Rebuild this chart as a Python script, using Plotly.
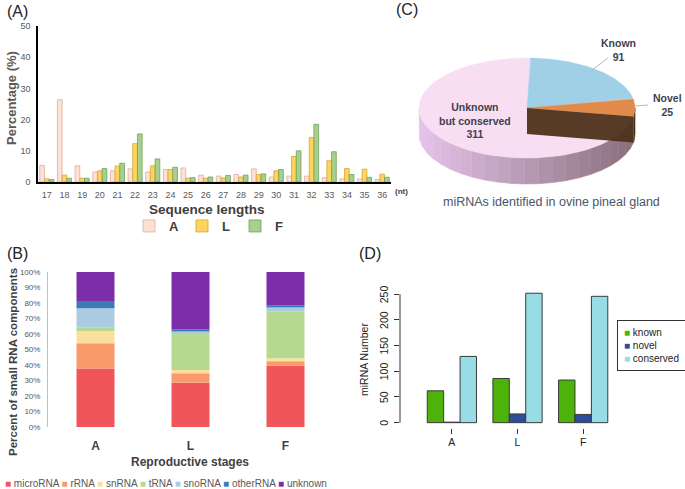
import numpy as np
import plotly.graph_objects as go

# ---------------- data ----------------
# (A) sequence length distribution (%)
LENGTHS = ["17", "18", "19", "20", "21", "22", "23", "24", "25", "26",
           "27", "28", "29", "30", "31", "32", "33", "34", "35", "36"]
PCT_A = [5.3, 26.4, 5.2, 3.2, 3.6, 4.2, 3.2, 4.0, 4.5, 2.2, 1.9, 2.4, 4.2, 1.6, 1.9, 1.9, 1.4, 1.0, 1.0, 0.8]
PCT_L = [1.0, 2.2, 1.2, 3.6, 5.1, 12.3, 5.2, 4.0, 1.2, 1.2, 1.3, 1.6, 2.4, 3.6, 8.2, 14.3, 6.8, 4.3, 4.1, 2.5]
PCT_F = [0.8, 1.2, 1.2, 4.3, 6.0, 15.4, 7.4, 4.7, 1.4, 1.6, 2.1, 2.2, 2.6, 4.0, 10.0, 18.5, 9.7, 2.4, 1.5, 1.5]

# (B) small RNA composition (%)
STAGES = ["A", "L", "F"]
RNA_TYPES = ["microRNA", "rRNA", "snRNA", "tRNA", "snoRNA", "otherRNA", "unknown"]
RNA_A = [37.8, 16.2, 8.0, 2.0, 12.6, 4.7, 18.7]
RNA_L = [28.5, 6.1, 2.1, 23.3, 1.6, 1.5, 36.9]
RNA_F = [39.5, 3.0, 1.8, 30.2, 2.6, 1.5, 21.4]

# (C) miRNA categories
PIE_LABELS = ["Known", "Novel", "Unknown<br>but conserved"]
PIE_VALUES = [91, 25, 311]

# (D) miRNA numbers per stage
MIR_KNOWN = [62, 86, 83]
MIR_NOVEL = [1, 17, 16]
MIR_CONSERVED = [129, 252, 246]
D_TICKS = [0, 50, 100, 150, 200, 250]

# ---------------- styling ----------------
W, H = 685, 489
FONT = "Liberation Sans, Arial, sans-serif"


def px(x):
    return x / W


def py(y):
    return 1 - y / H


A_COLORS = [("#FBE2D5", "#D9B0A2"), ("#FFD35C", "#D3A63A"), ("#A8D08D", "#74A05A")]
RNA_COLORS = ["#F0555A", "#F89A6A", "#FADF9E", "#B5D98E", "#A9CCE3", "#3C7AB4", "#7B2DAA"]
D_COLORS = ["#4DB30B", "#2F4D9E", "#98DDE5"]

fig = go.Figure()

# ---- (A) grouped bars ----
for name, vals, (fc, lc) in zip(["A", "L", "F"], [PCT_A, PCT_L, PCT_F], A_COLORS):
    fig.add_trace(go.Bar(x=LENGTHS, y=vals, name=name, marker=dict(color=fc, line=dict(color=lc, width=0.8)),
                         xaxis="x", yaxis="y", legend="legend"))

# ---- (B) stacked 100% bars (base from cumulative sums) ----
rna = np.array([RNA_A, RNA_L, RNA_F])
bases = np.cumsum(rna, axis=1) - rna
for i, name in enumerate(RNA_TYPES):
    fig.add_trace(go.Bar(x=STAGES, y=rna[:, i], base=bases[:, i], name=name, width=0.4, offset=-0.2,
                         marker=dict(color=RNA_COLORS[i], line=dict(width=0)),
                         xaxis="x2", yaxis="y2", showlegend=False))

# ---- (C) 3D-look pie ----
CX, CY = 527, 108          # page px of pie centre
RX, RY, DEPTH = 108, 50, 26
START = 88
total = sum(PIE_VALUES)
edges = [START]
for v in PIE_VALUES:
    edges.append(edges[-1] - v / total * 360.0)


def ell(a):
    a = np.radians(a)
    return RX * np.cos(a), RY * np.sin(a)


def side(a0, a1, color):
    t = np.linspace(a0, a1, 30)
    x, y = ell(t)
    xs = np.concatenate([x, x[::-1], x[:1]])
    ys = np.concatenate([y, y[::-1] - DEPTH, y[:1]])
    fig.add_trace(go.Scatter(x=xs, y=ys, fill="toself", fillcolor=color, mode="lines",
                             line=dict(width=0.6, color=color), xaxis="x3", yaxis="y3",
                             showlegend=False, hoverinfo="skip"))


# front wall: orange (novel) part then pink (unknown) part with gradient
side(max(edges[2], -180), min(edges[1], 0), "#4A2E16")
seg = np.linspace(edges[2], -180, 24)
for a0, a1 in zip(seg[:-1], seg[1:]):
    xm = (ell((a0 + a1) / 2)[0] + RX) / (2 * RX)
    c0 = np.array([230, 196, 236])
    c1 = np.array([138, 110, 124])
    c = (c0 + (c1 - c0) * xm).astype(int)
    side(a0, a1, "rgb(%d,%d,%d)" % tuple(c))

TOP_COLORS = ["#A0D0E8", "#E08A4C", "#F8DEF3"]
for i in [2, 0, 1]:
    t = np.linspace(edges[i], edges[i + 1], 80)
    x, y = ell(t)
    fig.add_trace(go.Scatter(x=np.concatenate([[0], x, [0]]), y=np.concatenate([[0], y, [0]]),
                             fill="toself", fillcolor=TOP_COLORS[i], mode="lines",
                             line=dict(width=0.5, color=TOP_COLORS[i]), xaxis="x3", yaxis="y3",
                             showlegend=False, hoverinfo="skip"))

# radial cut face below the novel slice
ex, ey = ell(edges[2])
fig.add_trace(go.Scatter(x=[0, ex, ex, 0, 0], y=[0, ey, ey - DEPTH, -DEPTH, 0], fill="toself",
                         fillcolor="rgba(78,50,26,0.95)", mode="lines", line=dict(width=0),
                         xaxis="x3", yaxis="y3", showlegend=False, hoverinfo="skip"))

# ---- (D) R-style grouped bars ----
for j, (name, vals) in enumerate(zip(["known", "novel", "conserved"], [MIR_KNOWN, MIR_NOVEL, MIR_CONSERVED])):
    fig.add_trace(go.Bar(x=STAGES, y=vals, name=name, width=0.25, offset=-0.375 + 0.25 * j,
                         marker=dict(color=D_COLORS[j], line=dict(color="#3A3A3A", width=1)),
                         xaxis="x4", yaxis="y4", showlegend=False))

ann = []


def text(x, y, s, size, color="#404040", bold=False, angle=0, xanchor="center", yanchor="middle", **kw):
    ann.append(dict(x=px(x), y=py(y), xref="paper", yref="paper", text=s, showarrow=False,
                    xanchor=xanchor, yanchor=yanchor, textangle=angle,
                    font=dict(family=FONT, size=size, color=color,
                              weight="bold" if bold else "normal"), **kw))


# panel letters
text(17, 12, "(A)", 16, "#222")
text(17, 253, "(B)", 16, "#222")
text(407, 10, "(C)", 16, "#222")
text(370, 253, "(D)", 16, "#222")

# A titles
text(11, 98, "Percentage (%)", 13, "#595959", True, -90)
text(207, 209, "Sequence lengths", 13.5, "#404040", True)
text(393, 192, "(nt)", 8, "#404040", True, xanchor="left")

# B titles + legend
text(13, 362, "Percent of small RNA components", 11.5, "#404040", True, -90)
text(190, 462, "Reproductive stages", 12, "#404040", True)
leg_b = " ".join("<span style='color:%s'>■</span> %s" % (c, n) for c, n in zip(RNA_COLORS, RNA_TYPES))
text(3, 483, leg_b, 10, "#595959", xanchor="left")

# C labels
text(CX - 52, CY + 12, "<b>%s<br>%d</b>" % (PIE_LABELS[2], PIE_VALUES[2]), 10.5, "#3F3F4F")
text(618, 50, "<b>%s<br>%d</b>" % (PIE_LABELS[0], PIE_VALUES[0]), 10.5, "#3F3F4F")
text(667, 105, "<b>%s<br>%d</b>" % (PIE_LABELS[1], PIE_VALUES[1]), 10.5, "#3F3F4F")
text(551, 202, "miRNAs identified in ovine pineal gland", 12.5, "#4A556B")

# D titles, rotated y tick labels (R style) + legend
text(364, 360, "miRNA Number", 10.5, "#222", angle=-90)
for v in D_TICKS:
    ann.append(dict(x=px(384), y=v, xref="paper", yref="y4", text=str(v), showarrow=False,
                    textangle=-90, xanchor="center", yanchor="middle",
                    font=dict(family=FONT, size=10.5, color="#222")))
leg_d = "<br>".join("<span style='color:%s'>■</span> %s" % (c, n)
                    for c, n in zip(D_COLORS, ["known", "novel", "conserved"]))
ann.append(dict(x=px(617), y=py(320), xref="paper", yref="paper", xanchor="left", yanchor="top",
                text=leg_d, showarrow=False, align="left", bordercolor="#333", borderwidth=1,
                borderpad=6, bgcolor="white", font=dict(family=FONT, size=10, color="#222")))

shapes = [
    dict(type="line", xref="paper", yref="paper", x0=px(608), y0=py(58), x1=px(592), y1=py(70),
         line=dict(color="#A6A6A6", width=0.8)),
    dict(type="line", xref="paper", yref="paper", x0=px(648), y0=py(105), x1=px(635), y1=py(106),
         line=dict(color="#A6A6A6", width=0.8)),
    dict(type="line", xref="x4 domain", yref="y4", x0=0, x1=0, y0=D_TICKS[0], y1=D_TICKS[-1],
         line=dict(color="#333", width=1)),
]

noline = dict(showgrid=False, zeroline=False)
fig.update_layout(
    width=W, height=H, margin=dict(l=0, r=0, t=0, b=0, autoexpand=False),
    paper_bgcolor="white", plot_bgcolor="rgba(0,0,0,0)",
    font=dict(family=FONT),
    barmode="group", bargap=0.2, bargroupgap=0,
    xaxis=dict(domain=[px(38), px(391)], anchor="y", type="category", range=[-0.5, 19.5],
               showline=True, linecolor="black", linewidth=1.5, ticks="outside", ticklen=3,
               tickcolor="rgba(0,0,0,0)", tickfont=dict(size=9, color="#595959"), **noline),
    yaxis=dict(domain=[py(182), py(26)], anchor="x", range=[0, 50], dtick=10,
               showline=True, linecolor="black", linewidth=1.5, ticks="outside", ticklen=4,
               tickcolor="rgba(0,0,0,0)", tickfont=dict(size=9, color="#595959"), **noline),
    xaxis2=dict(domain=[px(48), px(333)], anchor="y2", type="category", range=[-0.5, 2.5],
                showline=False, ticks="outside", ticklen=8, tickcolor="rgba(0,0,0,0)",
                tickfont=dict(size=12, color="#404040", weight="bold"), **noline),
    yaxis2=dict(domain=[py(427), py(272)], anchor="x2", range=[0, 100], dtick=10, ticksuffix="%",
                showline=True, linecolor="#BFBFBF", ticks="outside", ticklen=5,
                tickcolor="rgba(0,0,0,0)", tickfont=dict(size=8, color="#595959"), **noline),
    xaxis3=dict(domain=[px(400), 1], anchor="y3", range=[400 - CX, W - CX], visible=False, **noline),
    yaxis3=dict(domain=[py(200), py(30)], anchor="x3", range=[CY - 200, CY - 30], visible=False, **noline),
    xaxis4=dict(domain=[px(400), px(616)], anchor="y4", type="category", range=[-0.79, 2.5],
                showline=False, ticks="outside", ticklen=5, tickcolor="#333",
                tickfont=dict(size=10.5, color="#222"), **noline),
    yaxis4=dict(domain=[py(427.8), py(288.1)], anchor="x4", range=[-10, 262], tickvals=D_TICKS,
                showticklabels=False, showline=False, ticks="outside", ticklen=5,
                tickcolor="#333", **noline),
    legend=dict(orientation="h", x=px(129), y=py(226), xanchor="left", yanchor="middle",
                entrywidth=8, entrywidthmode="pixels", itemwidth=30, bgcolor="rgba(0,0,0,0)",
                font=dict(size=13, color="#404040", weight="bold")),
    annotations=ann, shapes=shapes,
)

fig.write_html("out.html", config={"displayModeBar": False},
               post_script="document.body.style.margin='0';")
